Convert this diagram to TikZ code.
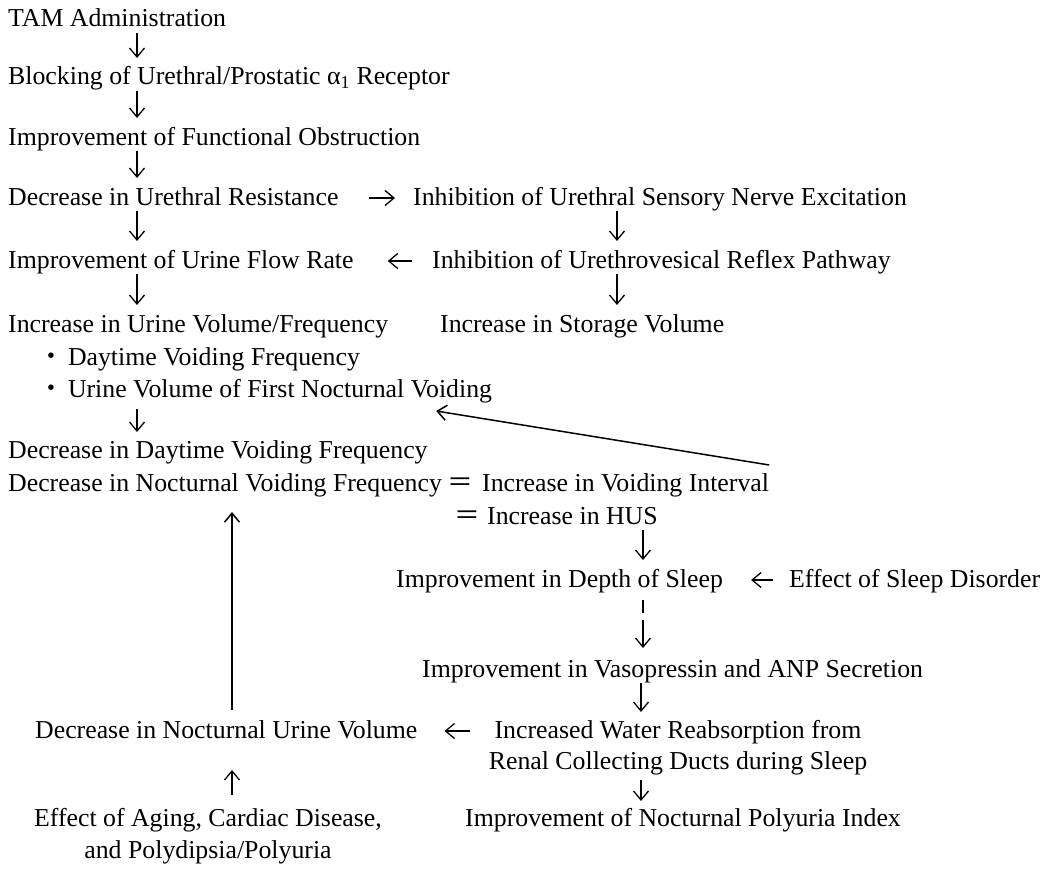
\documentclass[tikz,border=0pt]{standalone}
\usepackage{fontspec}
\setmainfont{Liberation Serif}
\newfontfamily\cjkf{Noto Sans CJK JP}
\usetikzlibrary{arrows.meta,calc}
\begin{document}
\begin{tikzpicture}[x=1pt,y=-1pt,
  txt/.style={inner sep=0pt, anchor=base west, font=\fontsize{25.8pt}{30pt}\selectfont},
  ctxt/.style={txt, anchor=base},
  arr/.style={line width=1.3pt, -{Straight Barb[length=9pt,width=15pt,line width=1.3pt]}},
  longarr/.style={line width=1.5pt, -{Straight Barb[length=9pt,width=15pt,line width=1.5pt]}},
]
\useasboundingbox (0,0) rectangle (1043,872);
\coordinate (cA) at (137,0);
\coordinate (cR) at (617,0);
\coordinate (cH) at (643,0);
\coordinate (cV) at (641,0);
\coordinate (cL) at (232,0);

\node[txt] (tam) at (8,27) {TAM Administration};
\node[txt] (block) at (8,85) {Blocking of Urethral/Prostatic α\textsubscript{1} Receptor};
\node[txt] (func) at (8,145) {Improvement of Functional Obstruction};
\node[txt] (res) at (8,205) {Decrease in Urethral Resistance};
\node[txt] (sens) at (413,205) {Inhibition of Urethral Sensory Nerve Excitation};
\node[txt] (flow) at (8,268) {Improvement of Urine Flow Rate};
\node[txt] (reflex) at (432,268) {Inhibition of Urethrovesical Reflex Pathway};
\node[txt] (incvol) at (8,332) {Increase in Urine Volume/Frequency};
\node[txt] (storage) at (440,332) {Increase in Storage Volume};
\node[txt] (day) at (38,365) {{\cjkf ・}\hspace{4pt}Daytime Voiding Frequency};
\node[txt] (first) at (38,397) {{\cjkf ・}\hspace{4pt}Urine Volume of First Nocturnal Voiding};
\node[txt] (decday) at (8,458) {Decrease in Daytime Voiding Frequency};
\node[txt] (decnoct) at (8,491) {Decrease in Nocturnal Voiding Frequency};
\node[txt] (eqa) at (447,491) {{\cjkf ＝}};
\node[txt] (interval) at (482,491) {Increase in Voiding Interval};
\node[txt] (eqb) at (454,524) {{\cjkf ＝}};
\node[txt] (hus) at (487,524) {Increase in HUS};
\node[txt] (depth) at (396,587) {Improvement in Depth of Sleep};
\node[txt] (disorder) at (789,587) {Effect of Sleep Disorder};
\node[txt] (vaso) at (422,677) {Improvement in Vasopressin and ANP Secretion};
\node[txt] (urinevol) at (35,738) {Decrease in Nocturnal Urine Volume};
\node[ctxt] (water1) at (678,738) {Increased Water Reabsorption from};
\node[ctxt] (water2) at (678,769) {Renal Collecting Ducts during Sleep};
\node[ctxt] (aging1) at (208,826) {Effect of Aging, Cardiac Disease,};
\node[ctxt] (aging2) at (208,858) {and Polydipsia/Polyuria};
\node[txt] (index) at (465,826) {Improvement of Nocturnal Polyuria Index};

% left column down arrows
\draw[arr] ($(tam.base -| cA)+(0,6)$) -- ($(block.base -| cA)+(0,-27)$);
\draw[arr] ($(block.base -| cA)+(0,6)$) -- ($(func.base -| cA)+(0,-27)$);
\draw[arr] ($(func.base -| cA)+(0,6)$) -- ($(res.base -| cA)+(0,-27)$);
\draw[arr] ($(res.base -| cA)+(0,6)$) -- ($(flow.base -| cA)+(0,-27)$);
\draw[arr] ($(flow.base -| cA)+(0,6)$) -- ($(incvol.base -| cA)+(0,-27)$);
\draw[arr] ($(first.base -| cA)+(0,12)$) -- ($(decday.base -| cA)+(0,-26)$);
% right column
\draw[arr] ($(sens.base -| cR)+(0,6)$) -- ($(reflex.base -| cR)+(0,-27)$);
\draw[arr] ($(reflex.base -| cR)+(0,6)$) -- ($(storage.base -| cR)+(0,-27)$);
\draw[arr] ($(hus.base -| cH)+(0,6)$) -- ($(depth.base -| cH)+(0,-27)$);
\draw[arr, dash pattern=on 13pt off 7pt on 80pt off 7pt] ($(depth.base -| cH)+(0,13)$) -- ($(vaso.base -| cH)+(0,-29)$);
\draw[arr] ($(vaso.base -| cV)+(0,6)$) -- ($(water1.base -| cV)+(0,-26)$);
\draw[arr] ($(water2.base -| cV)+(0,11)$) -- ($(index.base -| cV)+(0,-25)$);
% horizontal arrows
\draw[arr] ($(res.base east)+(30,-7)$) -- ($(sens.base west)+(-18,-7)$);
\draw[arr] ($(reflex.base west)+(-20,-7)$) -- ($(flow.base east)+(34,-7)$);
\draw[arr] ($(disorder.base west)+(-16,-7)$) -- ($(depth.base east)+(28,-7)$);
\draw[arr] ($(water1.base west)+(-24,-7)$) -- ($(urinevol.base east)+(27,-7)$);
% bottom-left
\draw[arr] ($(aging1.base -| cL)+(0,-31)$) -- ($(urinevol.base -| cL)+(0,32)$);
\draw[longarr] ($(urinevol.base -| cL)+(0,-28)$) -- ($(decnoct.base -| cL)+(0,21)$);
% diagonal
\draw[longarr] ($(interval.base east)+(0,-26)$) -- ($(first.base east)+(-56,14)$);
\end{tikzpicture}
\end{document}
